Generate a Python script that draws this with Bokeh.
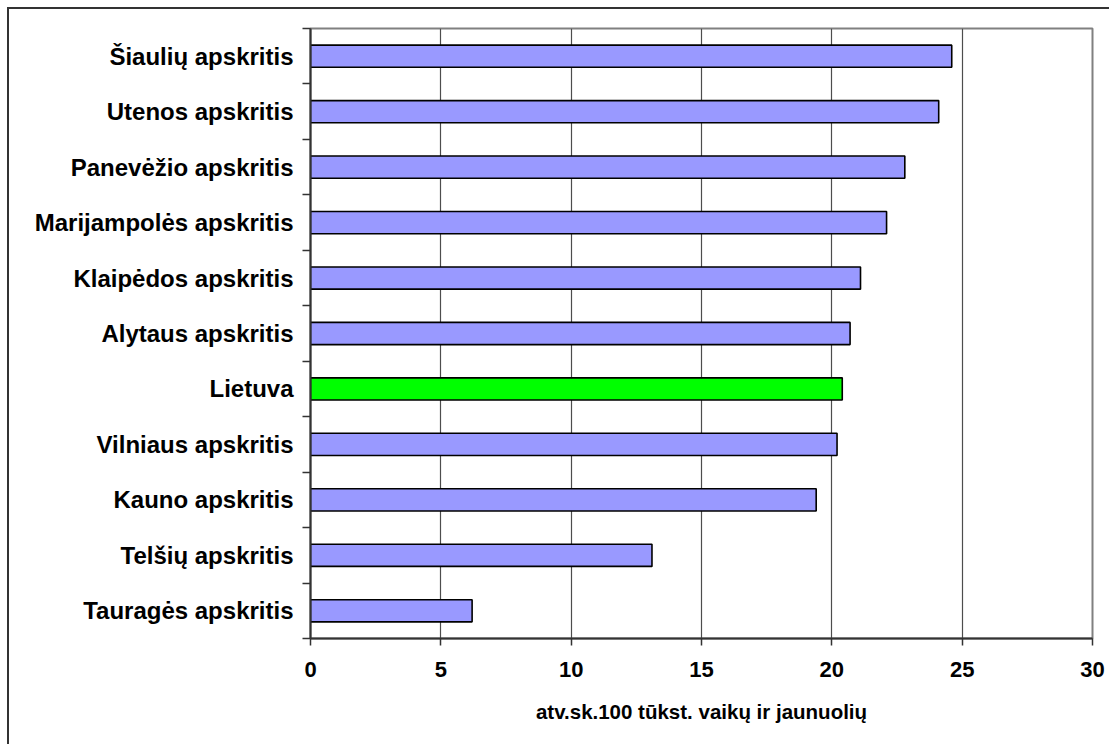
from bokeh.plotting import figure
from bokeh.models import Range1d, FixedTicker, ColumnDataSource
from bokeh.embed import file_html
from bokeh.resources import INLINE

# Counties, top to bottom as listed
counties = [
    "Šiaulių apskritis",
    "Utenos apskritis",
    "Panevėžio apskritis",
    "Marijampolės apskritis",
    "Klaipėdos apskritis",
    "Alytaus apskritis",
    "Lietuva",
    "Vilniaus apskritis",
    "Kauno apskritis",
    "Telšių apskritis",
    "Tauragės apskritis",
]
rates = [24.6, 24.1, 22.8, 22.1, 21.1, 20.7, 20.4, 20.2, 19.4, 13.1, 6.2]
x_ticks = [0, 5, 10, 15, 20, 25, 30]
x_title = "atv.sk.100 tūkst. vaikų ir jaunuolių"

BAR = "#9999FF"
NATIONAL = "#00FF00"

n = len(counties)
# bottom row gets position 1, top row position n
pos = [n - i for i in range(n)]
colors = [NATIONAL if c == "Lietuva" else BAR for c in counties]

src = ColumnDataSource(dict(y=pos, rate=rates, name=counties, color=colors))

p = figure(
    width=1102, height=737,
    x_range=Range1d(0, 30), y_range=Range1d(0.5, n + 0.5),
    output_backend="svg", toolbar_location=None,
    min_border_left=301, min_border_right=19,
    min_border_top=19, min_border_bottom=108,
)
p.margin = (7, 0, 0, 7)
p.styles = {"border-top": "2px solid #333333", "border-left": "2px solid #333333"}

p.hbar(y="y", right="rate", left=0, height=0.4, source=src,
       fill_color="color", line_color="black", line_width=1.6)

# plot area frame
p.outline_line_color = "#808080"
p.outline_line_width = 2
p.background_fill_color = "white"
p.border_fill_color = "white"

# x axis
p.xaxis.ticker = FixedTicker(ticks=x_ticks)
p.xaxis.axis_line_color = "#333333"
p.xaxis.axis_line_width = 2
p.xaxis.major_tick_out = 7
p.xaxis.major_tick_in = 0
p.xaxis.major_tick_line_color = "#333333"
p.xaxis.major_tick_line_width = 1.5
p.xaxis.minor_tick_line_color = None
p.xaxis.major_label_text_font = "Liberation Sans"
p.xaxis.major_label_text_font_style = "bold"
p.xaxis.major_label_text_font_size = "22px"
p.xaxis.major_label_text_color = "black"
p.xaxis.major_label_standoff = 16
p.xaxis.axis_label = x_title
p.xaxis.axis_label_text_font = "Liberation Sans"
p.xaxis.axis_label_text_font_style = "bold"
p.xaxis.axis_label_text_font_size = "20.5px"
p.xaxis.axis_label_text_color = "black"
p.xaxis.axis_label_standoff = 20

# y axis: labels at row centres, tick marks between rows
p.yaxis.ticker = FixedTicker(ticks=pos, minor_ticks=[k + 0.5 for k in range(n + 1)])
p.yaxis.major_label_overrides = {y: name for y, name in zip(pos, counties)}
p.yaxis.axis_line_color = "#333333"
p.yaxis.axis_line_width = 2
p.yaxis.major_tick_out = 0
p.yaxis.major_tick_in = 0
p.yaxis.minor_tick_out = 8
p.yaxis.minor_tick_in = 0
p.yaxis.minor_tick_line_color = "#333333"
p.yaxis.minor_tick_line_width = 1.5
p.yaxis.major_label_text_font = "Liberation Sans"
p.yaxis.major_label_text_font_style = "bold"
p.yaxis.major_label_text_font_size = "24px"
p.yaxis.major_label_text_color = "black"
p.yaxis.major_label_standoff = 9

p.xgrid.ticker = FixedTicker(ticks=x_ticks)
p.xgrid.grid_line_color = "#4d4d4d"
p.xgrid.grid_line_width = 1.2
p.ygrid.grid_line_color = None

open("out.html", "w").write(file_html(p, INLINE))
